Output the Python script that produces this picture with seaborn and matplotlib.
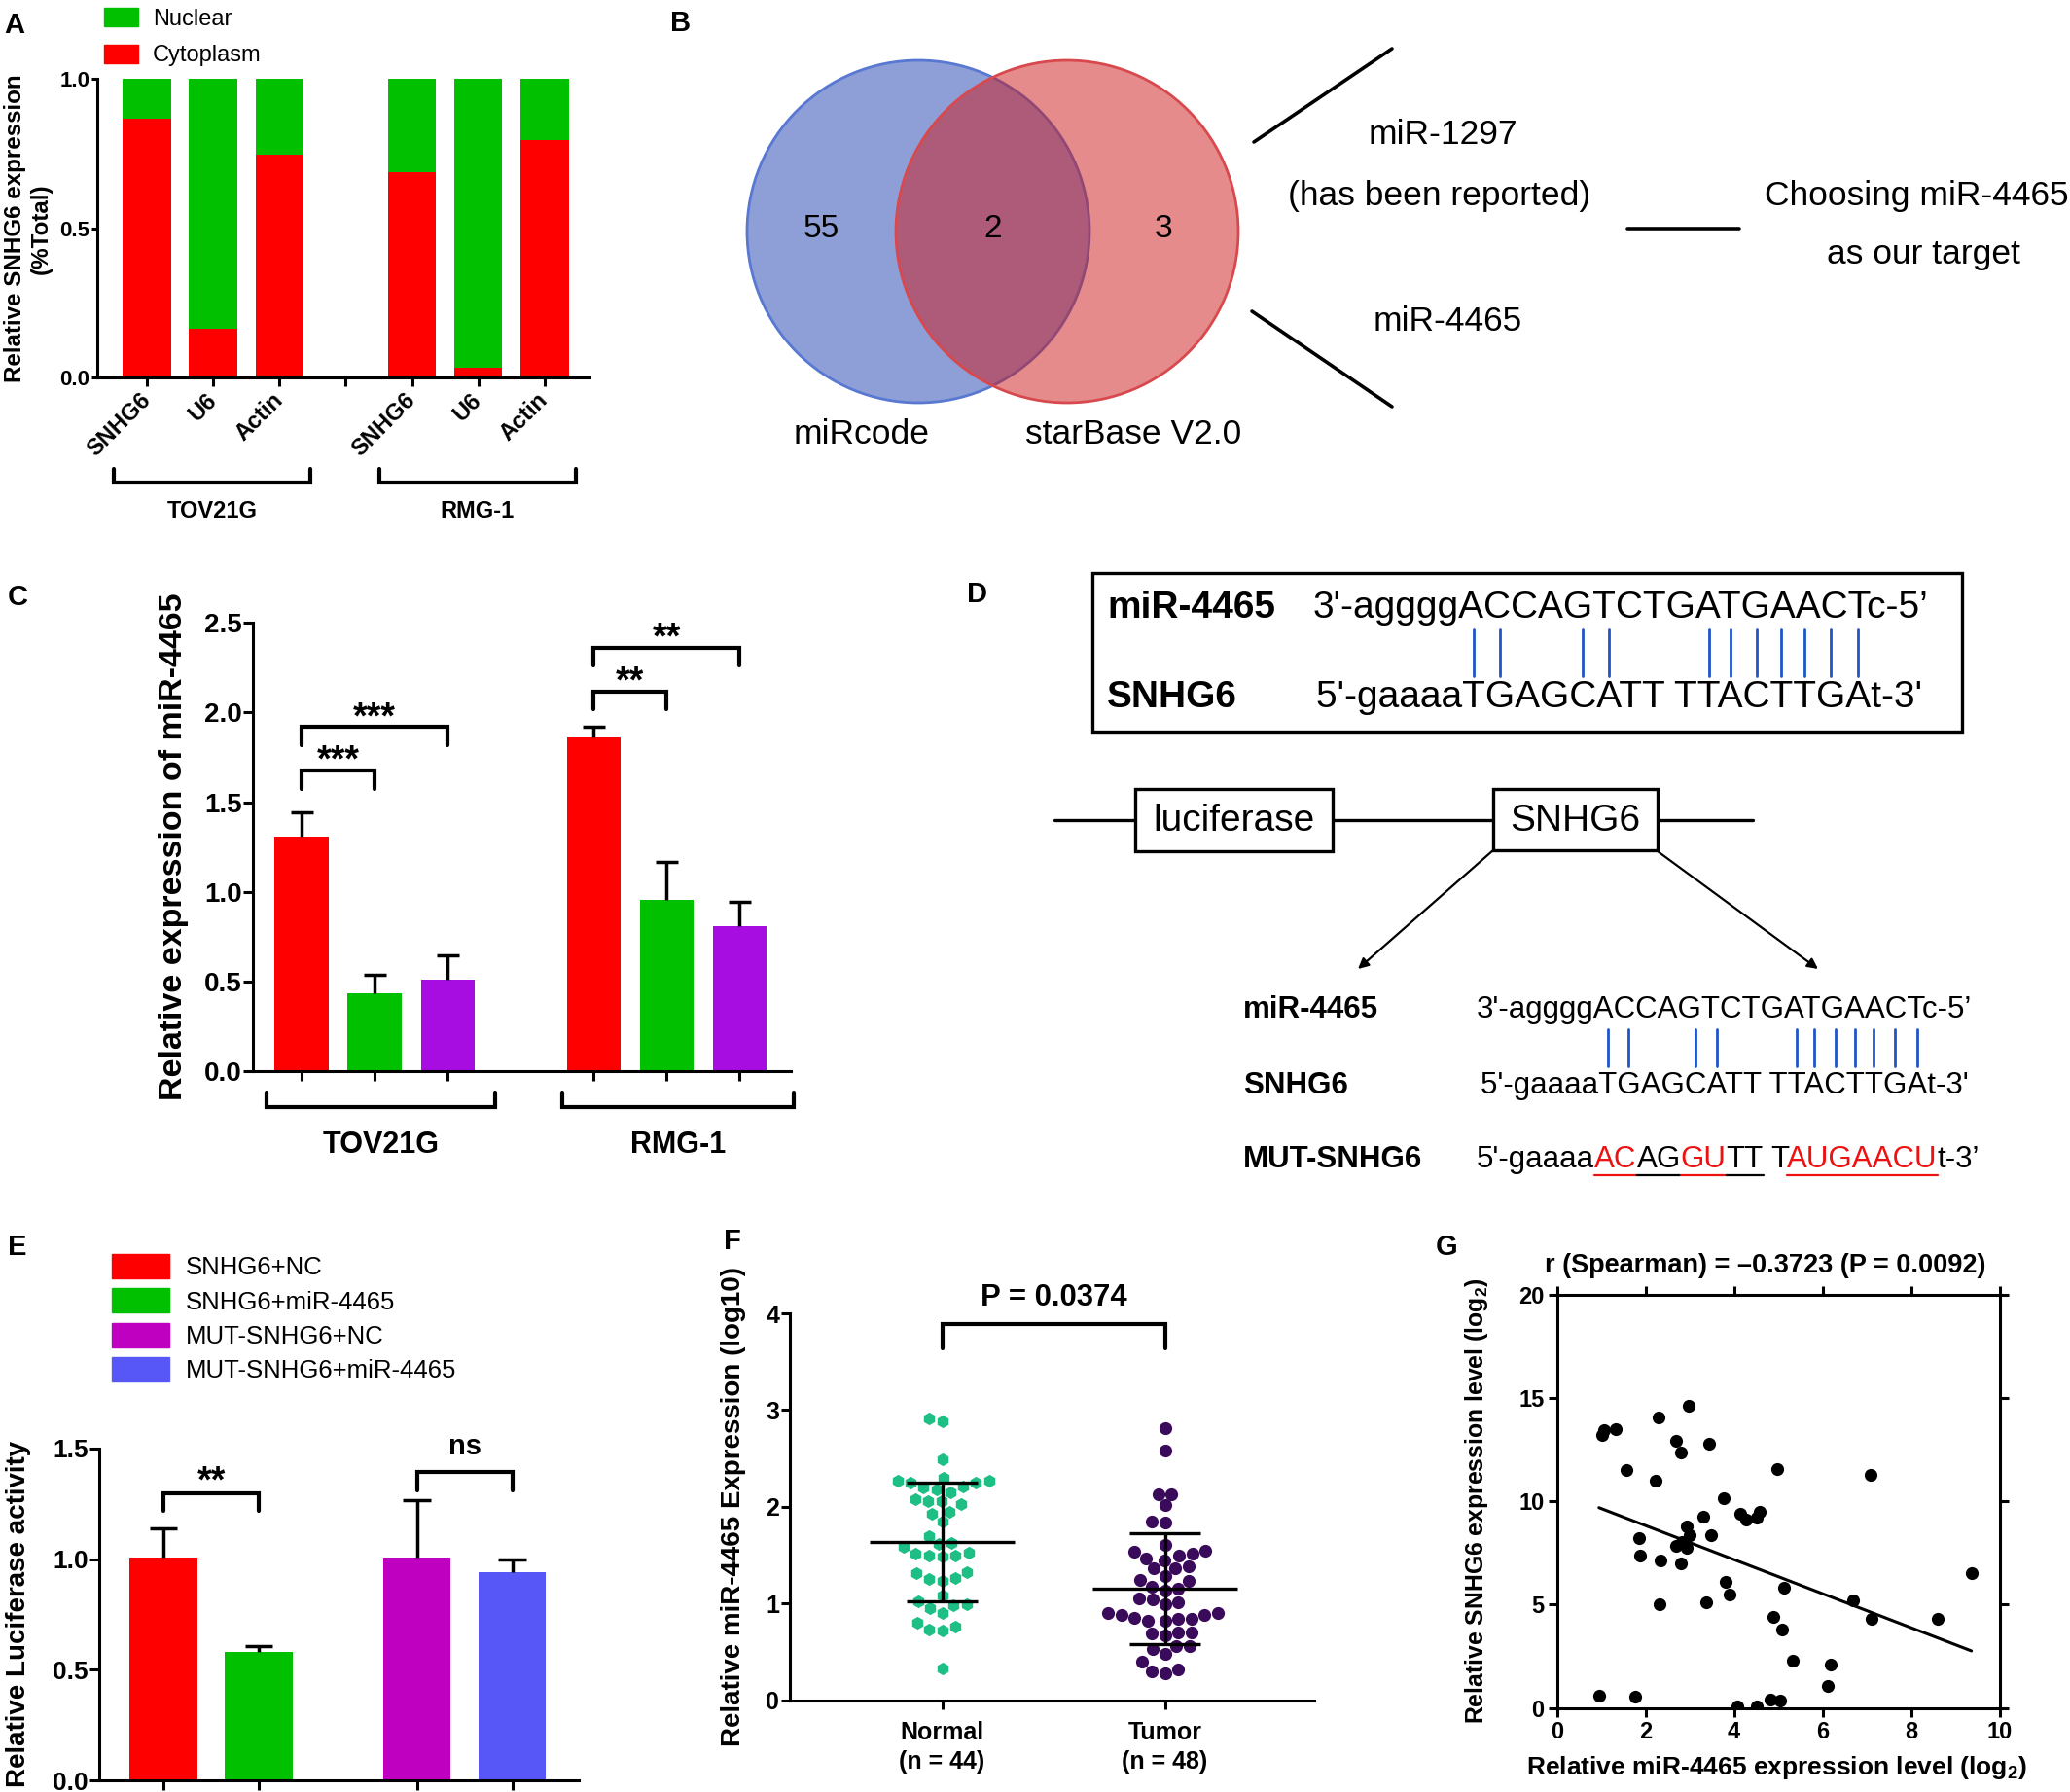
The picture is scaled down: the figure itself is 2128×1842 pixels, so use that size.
import numpy as np
import pandas as pd
import matplotlib
matplotlib.use('Agg')
import matplotlib.pyplot as plt
import seaborn as sns
from matplotlib.patches import Patch, Rectangle, Circle

# ============================================
# Data
# ============================================
# A - nuclear / cytoplasm fractions
a_cells = ['TOV21G', 'RMG-1']
a_genes = ['SNHG6', 'U6', 'Actin']
a_cytoplasm = [0.867, 0.163, 0.747, 0.689, 0.031, 0.796]
a_nuclear = [0.133, 0.837, 0.253, 0.311, 0.969, 0.204]

# B - venn counts (miRcode only, both, starBase only)
venn_sets = ['miRcode', 'starBase V2.0']
venn_counts = [55, 2, 3]

# C - miR-4465 expression
c_cells = ['TOV21G', 'RMG-1']
c_mean = [1.31, 0.435, 0.51, 1.86, 0.955, 0.81]
c_err = [0.135, 0.10, 0.135, 0.06, 0.21, 0.135]
c_sig = [(0, 1, '***'), (0, 2, '***'), (3, 4, '**'), (3, 5, '**')]
c_sig_y = [1.676, 1.919, 2.119, 2.362]

# D - sequences
mir_seq = "3'-aggggACCAGTCTGATGAACTc-5\u2019"
snhg_seq = "5'-gaaaaTGAGCATT TTACTTGAt-3'"
pair_idx = [8, 9, 12, 13, 18, 19, 20, 21, 22, 23, 24]
mut_parts = ["5'-gaaaa", "AC", "AG", "GU", "TT", " T", "AUGAACU", "t-3\u2019"]
mut_red = [False, True, False, True, False, False, True, False]
mut_line = [False, True, True, True, True, False, True, False]

# E - luciferase
e_groups = ['SNHG6+NC', 'SNHG6+miR-4465', 'MUT-SNHG6+NC', 'MUT-SNHG6+miR-4465']
e_mean = [1.006, 0.58, 1.006, 0.94]
e_err = [0.133, 0.027, 0.258, 0.059]
e_sig = [(0, 1, '**'), (2, 3, 'ns')]
e_sig_y = [1.297, 1.392]

# F - tissue expression (log10)
f_normal = [2.918, 2.887, 2.493,
            2.269, 2.249, 2.21, 2.18, 2.153, 2.203, 2.249, 2.269, 2.296,
            2.056, 2.025, 2.056, 2.075, 1.928, 1.952, 1.843, 1.70,
            1.612, 1.623, 1.585, 1.527, 1.496, 1.484, 1.496, 1.515,
            1.31, 1.322, 1.252, 1.237, 1.26, 1.078, 1.02,
            0.993, 0.955, 0.982, 0.904, 0.80, 0.73, 0.723, 0.761, 0.325]
f_tumor = [2.817, 2.578, 2.133, 2.133, 2.017, 1.832, 1.851, 1.604,
           1.534, 1.496, 1.515, 1.546, 1.469, 1.445, 1.38, 1.36, 1.368,
           1.283, 1.244, 1.233, 1.148, 1.136, 1.175, 1.013, 1.051, 1.04,
           0.993, 0.904, 0.885, 0.846, 0.839, 0.819, 0.819, 0.839, 0.877,
           0.897, 0.703, 0.672, 0.692, 0.703, 0.557, 0.529, 0.557, 0.479,
           0.394, 0.317, 0.278, 0.298]
f_pvalue = 'P = 0.0374'

# G - correlation
g_x = [1.018, 1.066, 1.332, 2.293, 2.978, 2.693, 2.797, 3.444, 1.579, 2.236,
       4.976, 7.088, 3.777, 4.139, 4.272, 4.519, 4.586, 3.302, 2.940, 2.988,
       3.482, 1.855, 2.683, 2.826, 2.940, 1.874, 2.331, 2.807, 3.806, 3.901,
       5.119, 2.322, 3.368, 6.679, 7.108, 8.601, 9.362, 4.881, 5.090, 5.328,
       6.185, 6.108, 0.951, 1.779, 4.082, 4.519, 4.824, 5.033]
g_y = [13.22, 13.44, 13.49, 14.05, 14.65, 12.93, 12.35, 12.77, 11.54, 10.99,
       11.59, 11.28, 10.13, 9.42, 9.10, 9.19, 9.51, 9.28, 8.79, 8.34,
       8.34, 8.23, 7.83, 8.01, 7.74, 7.38, 7.14, 6.98, 6.11, 5.48,
       5.84, 5.03, 5.12, 5.21, 4.30, 4.30, 6.53, 4.39, 3.80, 2.28,
       2.08, 1.08, 0.60, 0.54, 0.09, 0.09, 0.42, 0.33]
g_title = 'r (Spearman) = \u20130.3723 (P = 0.0092)'

# colours
RED = '#FF0000'
GREEN = '#00C000'
PURPLE_C = '#A70CE0'
MAGENTA_E = '#C000C0'
BLUE_E = '#5757F7'
F_NORMAL = '#1DBF85'
F_TUMOR = '#3B0B5B'
D_RED = '#EE1111'
D_BLUE = '#1F55C8'

# ============================================
# Style
# ============================================
sns.set_style('ticks')
plt.rcParams['font.family'] = ['Liberation Sans', 'DejaVu Sans']
plt.rcParams['font.weight'] = 'bold'
plt.rcParams['text.color'] = 'black'
plt.rcParams['axes.labelcolor'] = 'black'
plt.rcParams['axes.edgecolor'] = 'black'
plt.rcParams['xtick.color'] = 'black'
plt.rcParams['ytick.color'] = 'black'
plt.rcParams['axes.linewidth'] = 2.2
plt.rcParams['xtick.major.width'] = 2.2
plt.rcParams['ytick.major.width'] = 2.2
plt.rcParams['xtick.major.size'] = 6.5
plt.rcParams['ytick.major.size'] = 6.5
plt.rcParams['mathtext.fontset'] = 'custom'
plt.rcParams['mathtext.rm'] = 'Liberation Sans'
plt.rcParams['mathtext.bf'] = 'Liberation Sans:bold'

W, H = 2128, 1842
fig = plt.figure(figsize=(W / 100, H / 100), dpi=100)

# overlay axes in pixel coordinates for diagrams and panel letters
ov = fig.add_axes([0, 0, 1, 1])
ov.set_xlim(0, W)
ov.set_ylim(H, 0)
ov.axis('off')


def add_ax(x0, y0, x1, y1):
    ax = fig.add_axes([x0 / W, 1 - y1 / H, (x1 - x0) / W, (y1 - y0) / H])
    ax.set_facecolor('none')
    return ax


def sig_bracket(ax, x1, x2, y, drop, text, tgap, fs):
    ax.plot([x1, x1, x2, x2], [y - drop, y, y, y - drop], color='black', lw=3,
            clip_on=False, solid_joinstyle='miter')
    ax.text((x1 + x2) / 2, y + tgap, text, ha='center', va='center',
            fontsize=fs, fontweight='bold', clip_on=False)


def group_bracket(ax, x1, x2, yb, yt, label, ly, fs):
    tr = ax.get_xaxis_transform()
    ax.plot([x1, x1, x2, x2], [yt, yb, yb, yt], transform=tr, color='black',
            lw=3, clip_on=False, solid_joinstyle='miter')
    ax.text((x1 + x2) / 2, ly, label, transform=tr, ha='center', va='center',
            fontsize=fs, fontweight='bold')


def upper_errors(ax, pos, mean, err, half, lw=2.5):
    tops = np.add(mean, err)
    ax.vlines(pos, mean, tops, color='black', lw=lw, zorder=5)
    ax.hlines(tops, np.subtract(pos, half), np.add(pos, half), color='black', lw=lw, zorder=5)


# panel letters
for letter, (lx, ly) in {'A': (15, 26), 'B': (700, 24), 'C': (18, 614), 'D': (1004, 611),
                         'E': (18, 1282), 'F': (753, 1276), 'G': (1487, 1282)}.items():
    ov.text(lx, ly, letter, fontsize=21, fontweight='bold', ha='center', va='center')

# ============================================
# Panel A
# ============================================
axA = add_ax(99.5, 81.4, 606, 388)
a_pos = [0, 1, 2, 4, 5, 6]
dfA = pd.DataFrame({'pos': a_pos, 'cyto': a_cytoplasm,
                    'total': np.add(a_cytoplasm, a_nuclear)})
sns.barplot(data=dfA, x='pos', y='total', native_scale=True, orient='x', color=GREEN,
            saturation=1, width=0.73, errorbar=None, linewidth=0, ax=axA)
sns.barplot(data=dfA, x='pos', y='cyto', native_scale=True, orient='x', color=RED,
            saturation=1, width=0.73, errorbar=None, linewidth=0, ax=axA)
axA.set_xlim(-0.76, 6.68)
axA.set_ylim(0, 1)
axA.set_yticks([0, 0.5, 1.0])
axA.set_yticklabels(['0.0', '0.5', '1.0'])
axA.set_xticks([0, 1, 2, 3, 4, 5, 6])
axA.set_xticklabels(a_genes + [''] + a_genes, rotation=45, ha='right', va='center',
                    rotation_mode='anchor')
axA.tick_params(axis='x', labelsize=17, pad=8)
axA.tick_params(axis='y', labelsize=16, pad=1, length=4)
axA.set_xlabel('')
axA.set_ylabel('Relative SNHG6 expression\n(%Total)', fontsize=17.4, fontweight='bold',
               linespacing=1.2)
axA.yaxis.set_label_coords(-0.09, 0.5)
sns.despine(ax=axA)
group_bracket(axA, -0.5, 2.46, -0.352, -0.307, a_cells[0], -0.447, 17)
group_bracket(axA, 3.51, 6.47, -0.352, -0.307, a_cells[1], -0.447, 17)
axA.legend(handles=[Patch(color=GREEN, label='Nuclear'), Patch(color=RED, label='Cytoplasm')],
           loc='upper left', bbox_to_anchor=(107 / W, 1 - 8 / H), bbox_transform=fig.transFigure,
           frameon=False, borderpad=0, borderaxespad=0, handlelength=1.48, handleheight=0.85,
           handletextpad=0.64, labelspacing=0.64, prop={'size': 17, 'weight': 'normal'})

# ============================================
# Panel B - Venn diagram
# ============================================
r_v = 176
cx_blue, cx_red, cy_v = 944, 1097, 238
ov.add_patch(Circle((cx_blue, cy_v), r_v, fc='#8E9FD8', ec='#5878D2', lw=2))
ov.add_patch(Circle((cx_red, cy_v), r_v, fc=(205 / 255, 25 / 255, 25 / 255, 0.5), ec='#D8494E', lw=2))
count_x = [(cx_blue - r_v + cx_red - r_v) / 2, (cx_red - r_v + cx_blue + r_v) / 2,
           (cx_blue + r_v + cx_red + r_v) / 2]
for cx, n in zip(count_x, venn_counts):
    ov.text(cx, cy_v - 2, str(n), fontsize=24, fontweight='normal', ha='center', va='center')
ov.text(886, 446, venn_sets[0], fontsize=25.5, fontweight='normal', ha='center', va='center')
ov.text(1165, 446, venn_sets[1], fontsize=25.5, fontweight='normal', ha='center', va='center')
ov.plot([1289, 1431], [146, 50], color='black', lw=2.6)
ov.plot([1287, 1431], [320, 418], color='black', lw=2.6)
ov.plot([1673, 1788], [235, 235], color='black', lw=2.6)
for txt, tx, ty in [('miR-1297', 1483, 139), ('(has been reported)', 1480, 201),
                    ('miR-4465', 1488, 330), ('Choosing miR-4465', 1970, 201),
                    ('as our target', 1977, 261)]:
    ov.text(tx, ty, txt, fontsize=25.5, fontweight='normal', ha='center', va='center')

# ============================================
# Panel C
# ============================================
axC = add_ax(260, 640.4, 812.7, 1100.8)
c_pos = [0, 1, 2, 4, 5, 6]
dfC = pd.DataFrame({'pos': c_pos, 'value': c_mean, 'treat': ['t1', 't2', 't3'] * 2})
sns.barplot(data=dfC, x='pos', y='value', hue='treat', native_scale=True, orient='x',
            palette=[RED, GREEN, PURPLE_C], dodge=False, saturation=1, width=0.735,
            errorbar=None, linewidth=0, legend=False, ax=axC)
upper_errors(axC, c_pos, c_mean, c_err, 0.153)
axC.set_xlim(-0.667, 6.70)
axC.set_ylim(0, 2.5)
axC.set_yticks([0, 0.5, 1.0, 1.5, 2.0, 2.5])
axC.set_yticklabels(['0.0', '0.5', '1.0', '1.5', '2.0', '2.5'])
axC.set_xticks(c_pos)
axC.set_xticklabels([])
axC.tick_params(axis='both', labelsize=20, length=7, pad=1)
axC.set_xlabel('')
axC.set_ylabel('Relative expression of miR-4465', fontsize=24.5, fontweight='bold')
axC.yaxis.set_label_coords(-0.119, 0.5)
sns.despine(ax=axC)
for (i, j, s), y in zip(c_sig, c_sig_y):
    sig_bracket(axC, c_pos[i], c_pos[j], y, 0.1, s, 0.05, 27)
group_bracket(axC, -0.48, 2.65, -0.081, -0.048, c_cells[0], -0.1655, 22)
group_bracket(axC, 3.57, 6.75, -0.081, -0.048, c_cells[1], -0.1655, 22)

# ============================================
# Panel D - binding site diagram
# ============================================
renderer = fig.canvas.get_renderer()


def text_w(s, size, weight='normal'):
    t = ov.text(0, 0, s, fontsize=size, fontweight=weight)
    w = t.get_window_extent(renderer).width
    t.remove()
    return w


def draw_pairs(x_seq, y1, y2, size):
    for i in pair_idx:
        xc = x_seq + text_w(snhg_seq[:i + 1], size) - text_w(snhg_seq[i], size) / 2
        ov.plot([xc, xc], [y1, y2], color=D_BLUE, lw=2)


# top box
ov.add_patch(Rectangle((1123, 589), 894, 163, fill=False, ec='black', lw=2.4))
ov.text(1138, 625, 'miR-4465', fontsize=28, fontweight='bold', ha='left', va='center')
ov.text(1349.5, 625, mir_seq, fontsize=28, fontweight='normal', ha='left', va='center')
ov.text(1138, 717, 'SNHG6', fontsize=28, fontweight='bold', ha='left', va='center')
ov.text(1353, 717, snhg_seq, fontsize=28, fontweight='normal', ha='left', va='center')
draw_pairs(1353, 647, 695, 28)

# construct
ov.plot([1084, 1802], [843, 843], color='black', lw=2.4, zorder=1)
ov.add_patch(Rectangle((1167, 811), 203, 64, fc='white', ec='black', lw=2.4, zorder=2))
ov.add_patch(Rectangle((1535, 811), 169, 63, fc='white', ec='black', lw=2.4, zorder=2))
ov.text(1268, 843.5, 'luciferase', fontsize=28, fontweight='normal', ha='center', va='center', zorder=3)
ov.text(1619, 843.5, 'SNHG6', fontsize=28, fontweight='normal', ha='center', va='center', zorder=3)
arrow_kw = dict(arrowstyle='-|>', lw=1.6, color='black', mutation_scale=16, shrinkA=0, shrinkB=0)
ov.annotate('', xy=(1396, 996), xytext=(1535, 874), arrowprops=arrow_kw)
ov.annotate('', xy=(1869, 996), xytext=(1704, 875), arrowprops=arrow_kw)

# lower alignment
ov.text(1278, 1038, 'miR-4465', fontsize=22.5, fontweight='bold', ha='left', va='center')
ov.text(1518, 1038, mir_seq, fontsize=22.5, fontweight='normal', ha='left', va='center')
ov.text(1278, 1116, 'SNHG6', fontsize=22.5, fontweight='bold', ha='left', va='center')
ov.text(1522, 1116, snhg_seq, fontsize=22.5, fontweight='normal', ha='left', va='center')
draw_pairs(1522, 1058, 1096, 22.5)
ov.text(1278, 1192, 'MUT-SNHG6', fontsize=22.5, fontweight='bold', ha='left', va='center')
mut_full = ''.join(mut_parts)
x0_mut, k = 1518, 0
for part, is_red, has_line in zip(mut_parts, mut_red, mut_line):
    s = part.lstrip()
    start = k + (len(part) - len(s))
    end = k + len(part)
    xs = x0_mut + text_w(mut_full[:start + 1], 22.5) - text_w(mut_full[start], 22.5)
    xe = x0_mut + text_w(mut_full[:end], 22.5)
    col = D_RED if is_red else 'black'
    ov.text(xs, 1192, s, fontsize=22.5, fontweight='normal', color=col, ha='left', va='center')
    if has_line:
        ov.plot([xs, xe], [1207.5, 1207.5], color=col, lw=1.6)
    k = end

# ============================================
# Panel E
# ============================================
axE = add_ax(102, 1488.8, 595, 1830)
e_pos = [0, 1, 2.66, 3.66]
dfE = pd.DataFrame({'pos': e_pos, 'value': e_mean, 'group': e_groups})
e_palette = [RED, GREEN, MAGENTA_E, BLUE_E]
sns.barplot(data=dfE, x='pos', y='value', hue='group', native_scale=True, orient='x',
            palette=e_palette, dodge=False, saturation=1, width=0.71,
            errorbar=None, linewidth=0, legend=False, ax=axE)
upper_errors(axE, e_pos, e_mean, e_err, 0.145)
axE.set_xlim(-0.673, 4.357)
axE.set_ylim(0, 1.5)
axE.set_yticks([0, 0.5, 1.0, 1.5])
axE.set_yticklabels(['0.0', '0.5', '1.0', '1.5'])
axE.set_xticks(e_pos)
axE.set_xticklabels([])
axE.tick_params(axis='both', labelsize=19, length=7, pad=1)
axE.set_xlabel('')
axE.set_ylabel('Relative Luciferase activity', fontsize=20, fontweight='bold')
axE.yaxis.set_label_coords(-0.142, 0.5)
sns.despine(ax=axE)
for (i, j, s), y in zip(e_sig, e_sig_y):
    sig_bracket(axE, e_pos[i], e_pos[j], y, 0.08, s, 0.05 if s != 'ns' else 0.115,
                27 if s != 'ns' else 21)
axE.legend(handles=[Patch(color=c, label=g) for c, g in zip(e_palette, e_groups)],
           loc='upper left', bbox_to_anchor=(115 / W, 1 - 1289 / H), bbox_transform=fig.transFigure,
           frameon=False, borderpad=0, borderaxespad=0, handlelength=2.3, handleheight=1.13,
           handletextpad=0.64, labelspacing=0.35, prop={'size': 18.5, 'weight': 'normal'})

# ============================================
# Panel F
# ============================================
axF = add_ax(811.5, 1350, 1351, 1747.5)
f_order = ['Normal', 'Tumor']
dfN = pd.DataFrame({'group': 'Normal', 'value': f_normal})
dfT = pd.DataFrame({'group': 'Tumor', 'value': f_tumor})
sns.swarmplot(data=dfN, x='group', y='value', order=f_order, color=F_NORMAL, marker='h',
              size=9.5, linewidth=0, ax=axF)
sns.swarmplot(data=dfT, x='group', y='value', order=f_order, color=F_TUMOR, marker='o',
              size=9.5, linewidth=0, ax=axF)
for xi, vals in enumerate([f_normal, f_tumor]):
    m, sd = np.mean(vals), np.std(vals, ddof=1)
    axF.hlines(m, xi - 0.325, xi + 0.325, color='black', lw=2.4, zorder=6)
    axF.hlines([m - sd, m + sd], xi - 0.16, xi + 0.16, color='black', lw=2.4, zorder=6)
    axF.vlines(xi, m - sd, m + sd, color='black', lw=2.4, zorder=6)
axF.set_xlim(-0.686, 1.67)
axF.set_ylim(0, 4)
axF.set_yticks([0, 1, 2, 3, 4])
axF.set_xticks([0, 1])
axF.set_xticklabels([f'{g}\n(n = {len(v)})' for g, v in zip(f_order, [f_normal, f_tumor])],
                    linespacing=1.3)
axF.tick_params(axis='both', labelsize=18, length=6.5)
axF.tick_params(axis='x', pad=9)
axF.tick_params(axis='y', pad=1)
axF.set_xlabel('')
axF.set_ylabel('Relative miR-4465 Expression (log10)', fontsize=20, fontweight='bold')
axF.yaxis.set_label_coords(-0.0825, 0.5)
sns.despine(ax=axF)
sig_bracket(axF, 0, 1, 3.89, 0.25, f_pvalue, 0.27, 22.4)

# ============================================
# Panel G
# ============================================
axG = add_ax(1600.5, 1331, 2055.7, 1755.5)
sns.regplot(x=g_x, y=g_y, ci=None, color='black', ax=axG,
            scatter_kws={'s': 90, 'linewidths': 0, 'alpha': 1},
            line_kws={'lw': 2.2})
axG.set_xlim(0, 10)
axG.set_ylim(0, 20)
axG.set_xticks([0, 2, 4, 6, 8, 10])
axG.set_yticks([0, 5, 10, 15, 20])
axG.tick_params(axis='both', labelsize=17, length=6.5, top=True, right=True,
                labeltop=False, labelright=False, direction='out')
axG.tick_params(axis='y', pad=3)
axG.set_xlabel('Relative miR-4465 expression level (log$_\\mathbf{2}$)', fontsize=19, fontweight='bold')
axG.set_ylabel('Relative SNHG6 expression level (log$_\\mathbf{2}$)', fontsize=17.8, fontweight='bold')
axG.yaxis.set_label_coords(-0.150, 0.5)
axG.xaxis.set_label_coords(0.497, -0.112)
axG.text(0.471, 1.071, g_title, transform=axG.transAxes, ha='center', va='center',
         fontsize=19.5, fontweight='bold')

fig.savefig('out.png', dpi=100)
